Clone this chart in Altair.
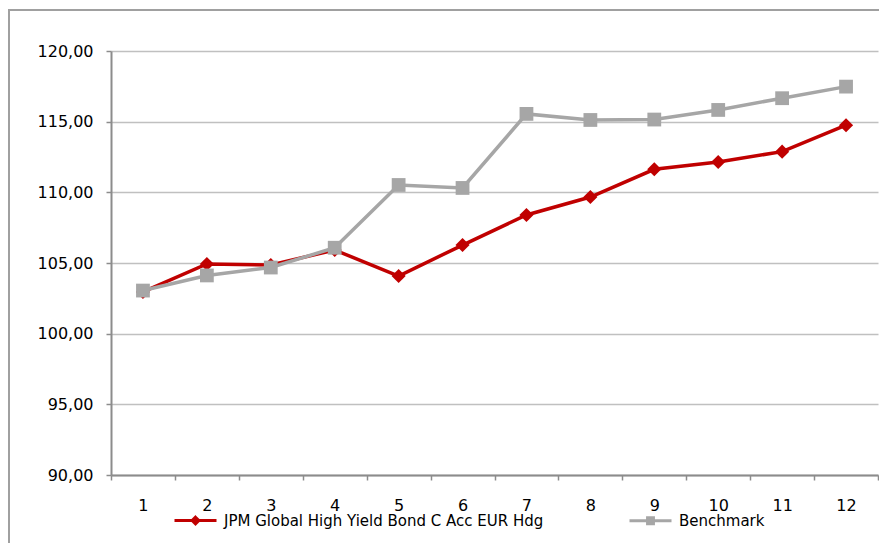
import altair as alt
import pandas as pd

months = [1, 2, 3, 4, 5, 6, 7, 8, 9, 10, 11, 12]
jpm = [102.95, 104.93, 104.86, 105.92, 104.08, 106.27, 108.40, 109.67, 111.63, 112.15, 112.88, 114.75]
bench = [103.05, 104.12, 104.68, 106.08, 110.52, 110.31, 115.55, 115.12, 115.15, 115.83, 116.66, 117.48]
series_names = ["JPM Global High Yield Bond C Acc EUR Hdg", "Benchmark"]
series_colors = ["#c00000", "#a6a6a6"]
y_ticks = [90, 95, 100, 105, 110, 115, 120]
x_ticks = [v / 2 for v in range(1, 26)]

df = pd.DataFrame({
    "x": months + months,
    "value": jpm + bench,
    "series": [series_names[0]] * 12 + [series_names[1]] * 12,
})

FONT = "DejaVu Sans"

x_enc = alt.X(
    "x:Q",
    scale=alt.Scale(domain=[0.5, 12.5], nice=False, zero=False),
    axis=alt.Axis(
        values=x_ticks,
        labelExpr="datum.value % 1 === 0 ? datum.value : ''",
        tickOpacity={"condition": {"test": "datum.value % 1 !== 0", "value": 1}, "value": 0},
        grid=False,
        title=None,
        labelFlush=False,
        labelOverlap=False,
        tickSize=5,
        labelPadding=17,
        domainColor="#8c8c8c",
        domainWidth=2,
        tickColor="#8c8c8c",
        tickWidth=1.5,
        labelFont=FONT,
        labelFontSize=16,
        labelColor="black",
    ),
)
y_enc = alt.Y(
    "value:Q",
    scale=alt.Scale(domain=[90, 120], nice=False, zero=False),
    axis=alt.Axis(
        values=y_ticks,
        labelExpr="replace(format(datum.value, '.2f'), '.', ',')",
        title=None,
        grid=True,
        gridColor="#c0c0c0",
        gridWidth=1.5,
        tickSize=5,
        labelPadding=13,
        domainColor="#8c8c8c",
        domainWidth=2,
        tickColor="#8c8c8c",
        tickWidth=1.5,
        labelFont=FONT,
        labelFontSize=16,
        labelColor="black",
    ),
)

base = alt.Chart(df)

layers = []
shapes_marks = ["diamond", "square"]
for name, col, shp, lw, sz in zip(series_names, series_colors, shapes_marks, [3.5, 3.5], [200, 190]):
    sub = base.transform_filter(alt.datum.series == name)
    layers.append(sub.mark_line(color=col, strokeWidth=lw).encode(x=x_enc, y=y_enc))
    layers.append(sub.mark_point(shape=shp, filled=True, color=col, size=sz, opacity=1).encode(x=x_enc, y=y_enc))

diamond_path = "M-1,0L1,0M0,-0.16L0.16,0L0,0.16L-0.16,0Z"
square_path = "M-1,0L1,0M-0.14,-0.14L0.14,-0.14L0.14,0.14L-0.14,0.14Z"

legend = alt.Legend(
    orient="none",
    legendX=62,
    legendY=447,
    direction="horizontal",
    title=None,
    symbolSize=1764,
    symbolStrokeWidth=3,
    symbolOpacity=1,
    labelFont=FONT,
    labelFontSize=15,
    labelColor="black",
    labelOffset=6,
    labelLimit=0,
    columnPadding=79,
    padding=0,
)

legend_layer = base.mark_point(filled=True, opacity=0).encode(
    x=x_enc,
    y=y_enc,
    color=alt.Color("series:N", scale=alt.Scale(domain=series_names, range=series_colors), legend=legend),
    stroke=alt.Stroke("series:N", scale=alt.Scale(domain=series_names, range=series_colors), legend=legend),
    shape=alt.Shape("series:N", scale=alt.Scale(domain=series_names, range=[diamond_path, square_path]), legend=legend),
)

frame = alt.Chart(pd.DataFrame({"a": [0]})).mark_rect(
    fillOpacity=0, stroke="#a0a0a0", strokeWidth=2
).encode(
    x=alt.value(-102), x2=alt.value(900), y=alt.value(-41), y2=alt.value(700)
)

chart = alt.layer(*layers, legend_layer, frame).properties(
    width=767,
    height=424,
    autosize=alt.AutoSizeParams(type="none"),
    padding={"left": 103, "top": 43, "right": 1, "bottom": 68},
    background="white",
).configure_view(strokeWidth=0)

chart.save("out.html", embed_options={"renderer": "svg", "actions": False})
